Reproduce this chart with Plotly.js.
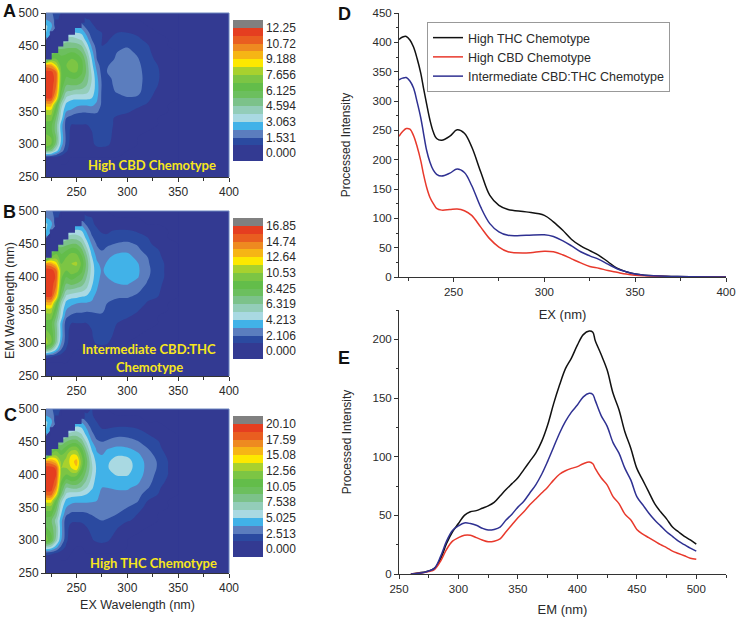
<!DOCTYPE html>
<html><head><meta charset="utf-8">
<script src="https://cdn.plot.ly/plotly-3.0.1.min.js"></script>
<style>html,body{margin:0;padding:0;background:#fff}#c{width:740px;height:622px}</style>
</head><body><div id="c"></div>
<script>
const _=null; // no signal above the scatter line: left empty in the map
const exWavelengths=[220,225,230,235,240,245,250,255,260,265,270,275,280,290,300,310,320,330,340,350];
const emWavelengths=[250,270,280,290,300,310,320,330,340,350,360,370,380,390,400,410,420,430,440,450,460,470,480,490,500];
// Edge of the scatter-line cut-out in the maps (EX, EM nm)
const cutEx=[220,225.6,225.6,232,232,237,237,242,242,248.5,248.5,255,255,258,258,235,235,229,229,224,224,220];
const cutEm=[429,429,439,439,449,449,457,457,467,467,477,477,485,485,500,500,490,490,472,472,459,459];
const bandStepA=0.765625, bandStepB=1.0531, bandStepC=1.2563;
const mapA=[
[0,0,0,0,0,0,0,0,0,0,0,0,0,0,0,0,0,0,0,0],
[0,0,0,0,0,0,0,0,0,0,0,0,0,0,0,0,0,0,0,0],
[1,.8,.6,.4,.2,0,0,0,0,0,0,0,0,0,0,0,0,0,0,0],
[7,6.5,4.5,2.5,1.2,.3,.2,.2,.3,.4,.6,.6,.5,.2,0,0,0,0,0,0],
[10,9,6.5,3.5,1.6,.5,.3,.4,.5,.8,1.2,1.3,1.2,.4,.1,0,0,0,0,0],
[9.5,9,7,3.8,1.7,.6,.4,.5,.6,.9,1.3,1.4,1.3,.6,.2,0,0,0,0,0],
[8.5,8.3,6.5,3.5,1.6,.7,.6,.6,.7,1,1.3,1.4,1.3,.7,.3,.1,0,0,0,0],
[8.5,8.3,6.5,3.5,1.5,1,1,1,1,1.1,1.3,1.4,1.3,.8,.4,.2,.1,0,0,0],
[9.5,9.5,7,4.5,2,1.5,1.2,1.2,1.2,1.3,1.4,1.4,1.2,.9,.7,.4,.2,0,0,0],
[10.5,10.5,8,4.8,3,2.8,2.4,2.2,2.2,2.3,2.2,1.5,1.3,1.2,1.1,.8,.4,.1,0,0],
[12.5,12.5,9,5.5,3.7,3.5,3.2,3.1,3.1,3.2,2.8,1.8,1.4,1.3,1.3,1.2,.9,.3,0,0],
[15,15,12,7,4.8,4.2,4.2,4.2,4.2,4,3.2,1.8,1.5,1.6,1.9,1.8,1.2,.6,.1,0],
[15.6,15.6,13.5,8,6,5.8,5.5,5.5,5.3,4.5,3.5,1.8,1.6,2.1,2.4,2.3,1.4,.8,.2,0],
[15.8,15.7,14,8.7,7,7,7,6.7,6,4.8,3.5,1.9,1.6,2.3,2.6,2.4,1.5,1,.3,0],
[15.7,15.7,14.5,9,7.8,8,8,7.5,6.5,5,3.3,1.8,1.7,2.4,2.7,2.5,1.5,1.1,.4,0],
[15.4,15.4,14,9,8.5,9,9,8.2,6.8,4.8,3,1.6,2,2.6,2.8,2.4,1.5,1.1,.4,0],
[13.5,13,11,8.5,9,9.5,9.3,8.4,6.7,4.4,2.5,1.5,1.9,2.5,2.7,2.3,1.4,1,.3,0],
[5,9,9,8.5,8.5,9,8.8,8,6.3,4,2,1.3,1.5,2.2,2.5,2.1,1.3,.8,.2,0],
[_,6,8,7.5,7.8,8,7.8,7,5.5,3.4,1.8,1.2,1.3,2,2.3,1.8,1.2,.6,.1,0],
[_,_,6,6.5,6.5,6.5,6.5,6,4.5,2.8,1.5,1,1.1,1.6,1.9,1.4,1.1,.3,0,0],
[2.5,_,_,4,5.5,5.5,5.2,4.8,3.5,2,1.3,1,.9,1.3,1.4,1.2,.7,.1,0,0],
[4,2.5,_,_,2.5,4,4,3.8,2.6,1.4,1.1,1,.8,1,1,.8,.3,0,0,0],
[4.2,3.4,1.2,_,_,_,3,2.5,1.5,1.1,.9,.6,.4,.3,.3,.1,0,0,0,0],
[3,2.6,1.5,.5,_,_,_,1.3,1.1,.9,.6,.3,.1,0,0,0,0,0,0,0],
[2.5,2.2,1.5,1,_,_,_,_,0,.7,.3,.1,0,0,0,0,0,0,0,0]];
const mapB=[
[0,0,0,0,0,0,0,0,0,0,0,0,0,0,0,0,0,0,0,0],
[0,0,0,0,0,0,0,0,0,0,0,0,0,0,0,0,0,0,0,0],
[1.5,1.2,.8,.5,.2,0,0,0,0,0,0,0,0,0,0,0,0,0,0,0],
[7,6,4,2,.9,.2,0,0,.1,.3,.5,.6,.5,.1,0,0,0,0,0,0],
[10.5,9,6,3,1.3,.4,.2,.3,.4,.8,1.1,1.2,1.1,.3,0,0,0,0,0,0],
[10,9,6.5,3.5,1.4,.5,.3,.4,.5,.9,1.4,1.5,1.4,.6,.2,0,0,0,0,0],
[9,8.5,6.5,3.5,1.3,.7,.6,.6,.7,1,1.5,1.6,1.5,.8,.3,.1,0,0,0,0],
[8.5,8.3,6.3,3.5,1.4,1,1,1,1,1.2,1.6,1.6,1.5,1,.6,.2,.1,0,0,0],
[9.5,9.5,7,4.5,2.2,1.7,1.6,1.7,1.7,1.8,1.9,1.9,1.8,1.5,1.1,.7,.2,0,0,0],
[10.5,10.5,8,4.8,3,2.6,2.3,2.2,2.1,2.1,2.1,2.1,1.9,1.6,1.3,1.1,.5,.1,0,0],
[12.5,12.5,9,5.5,3.6,3.2,3,2.9,2.9,2.8,2.4,2.2,2,1.7,1.5,1.4,.9,.4,0,0],
[15,15,12,7,4.7,4.3,4.2,4,3.8,3.3,2.6,2.4,2.3,2.1,2.1,1.8,1.2,1,.2,0],
[15.6,15.6,13.5,8,6,5.8,5.5,5.3,4.8,3.8,3,2.5,2.4,2.5,2.5,2.2,1.6,1.2,.4,0],
[15.8,15.7,14.2,8.8,7,7.3,7,6.5,5.5,4.2,3.2,2.6,2.6,3,3.1,2.6,1.9,1.3,.6,0],
[15.8,15.8,14.8,9.2,8,8.5,8,7.5,6,4.5,3.3,2.8,3,3.6,3.7,3.1,2.1,1.5,.7,0],
[15.6,15.6,14.3,9.5,9,9.7,9.5,8.3,6.5,4.6,3.4,2.9,3.2,3.9,3.9,3.2,2.2,1.5,.7,0],
[13.5,13,11.5,9,9.5,10,10.2,8.8,6.7,4.5,3.2,2.7,3.1,3.8,3.8,3.1,2.1,1.5,.7,0],
[5,9,9.5,8.5,9,9.5,9.5,8.3,6.3,4.1,2.8,2.4,2.8,3.4,3.4,2.7,2,1.3,.5,0],
[_,6,8.5,7.5,8,8.7,8.5,7.3,5.5,3.5,2.3,2,2.3,2.7,2.8,2.3,1.5,1.1,.3,0],
[_,_,6,6.5,6.7,7,7,6.2,4.5,2.9,1.9,1.6,1.8,2.1,2.2,1.9,1.2,.7,.1,0],
[2.5,_,_,4,5.5,5.7,5.5,5,3.6,2.2,1.4,1.2,1.1,1.5,1.6,1.3,1,.3,0,0],
[4,2.5,_,_,2.5,4,4.2,4,2.8,1.6,1.1,.9,.9,1.1,1.1,.9,.5,.1,0,0],
[4.2,3.4,1.2,_,_,_,3,2.7,1.8,1.1,.9,.6,.4,.3,.3,.2,0,0,0,0],
[3,2.6,1.5,.5,_,_,_,1.5,1.3,1,.6,.3,.1,0,0,0,0,0,0,0],
[2.5,2.2,1.5,1,_,_,_,_,0,.8,.4,.1,0,0,0,0,0,0,0,0]];
const mapC=[
[0,0,0,0,0,0,0,0,0,0,0,0,0,0,0,0,0,0,0,0],
[0,0,0,0,0,0,0,0,0,0,0,0,0,0,0,0,0,0,0,0],
[1.5,1.2,.9,.5,.2,0,0,0,0,0,0,0,0,0,0,0,0,0,0,0],
[5.5,5,3.5,1.8,.8,.2,0,0,.1,.3,.5,.6,.4,.1,0,0,0,0,0,0],
[9.5,8,5.5,3,1.2,.4,.2,.3,.5,.9,1.2,1.3,1.2,.3,0,0,0,0,0,0],
[9,8,6,3.3,1.3,.5,.4,.5,.7,1.1,1.6,1.7,1.6,.7,.2,0,0,0,0,0],
[8,7.5,6,3.3,1.2,.8,.7,.8,1,1.3,1.7,1.9,1.8,1.1,.5,.1,0,0,0,0],
[7.5,7.2,5.6,3.3,1.3,1.1,1.1,1.1,1.2,1.5,1.9,2,1.9,1.5,1.1,.8,.1,0,0,0],
[8.5,8.5,6.5,4,2.2,1.8,1.8,1.8,1.9,2.1,2.2,2.3,2.3,2,1.6,1,.3,0,0,0],
[9.5,9.5,7.5,4.5,3,2.6,2.5,2.5,2.5,2.6,2.7,2.8,2.6,2.3,2,1.5,.6,.1,0,0],
[11.5,11.5,8.5,5.3,3.7,3.3,3.2,3.2,3.2,3.1,3,2.9,2.7,2.5,2.4,2.1,1,.5,0,0],
[14.5,14.5,11.5,7,4.8,4.5,4.4,4.3,4,3.5,3.1,2.9,2.8,2.8,2.8,2.4,1.5,1,.2,0],
[15.6,15.6,13.5,8,6,6.2,6.3,5.8,5,4.2,3.3,3,3,3.1,3.1,2.8,2.1,1.2,.5,0],
[15.8,15.8,14.5,9,7.5,8,7.8,7,5.8,4.6,3.5,3.1,3.3,3.5,3.5,3.2,2.4,1.5,.8,0],
[15.8,15.8,15,9.8,9,9.5,9.3,8,6.5,5,3.7,3.3,3.7,4.1,4.1,3.5,2.6,1.7,1,0],
[15.6,15.6,14.8,10,10,11,11.8,9,7,5.2,3.8,3.4,3.9,4.5,4.4,3.6,2.7,1.9,1,0],
[13.5,13.2,12,9.7,10.3,11.5,12.5,9.5,7.3,5,3.6,3.3,3.8,4.5,4.4,3.5,2.7,1.9,1,0],
[5,9.5,9.8,9,9.8,11,11,9,6.8,4.5,3.2,3,3.5,3.9,3.8,3.2,2.5,1.6,.8,0],
[_,6,8.5,7.5,8.5,9.5,9.5,8,5.8,3.8,2.8,2.5,2.9,3.2,3.1,2.7,2,1.3,.5,0],
[_,_,6,6.5,7,7.5,7.5,6.5,4.8,3.1,2.2,2,2.2,2.5,2.4,2.1,1.5,1.1,.3,0],
[2.5,_,_,4,5.5,5.8,5.8,5.2,3.8,2.4,1.6,1.3,1.4,1.8,1.8,1.5,1.1,.6,.1,0],
[4,2.5,_,_,2.5,4,4.5,4.2,3,1.8,1.2,1,1,1.2,1.2,1,.6,.2,0,0],
[4.2,3.4,1.2,_,_,_,3,2.9,2,1.3,1,.7,.5,.4,.4,.2,0,0,0,0],
[3,2.6,1.5,.5,_,_,_,1.6,1.5,1.1,.7,.4,.1,0,0,0,0,0,0,0],
[2.5,2.2,1.5,1,_,_,_,_,0,1,.6,.2,0,0,0,0,0,0,0,0]];
const tickTextA=["0.000","1.531","3.063","4.594","6.125","7.656","9.188","10.72","12.25"];
const tickTextB=["0.000","2.106","4.213","6.319","8.425","10.53","12.64","14.74","16.85"];
const tickTextC=["0.000","2.513","5.025","7.538","10.05","12.56","15.08","17.59","20.10"];
const bandColors=["#333a92","#333a92","#333a92","#2b4aa0","#5b7dbe","#41b2e8","#a9d9e2","#93cdb9","#7cc28a","#6cbf5e","#63bd4a","#7cc544","#a8d12e","#fde800","#f6b515","#ee8a20","#e95e20","#e53e20","#808080","#808080"];
// Spectra
const exD=[220,222,224,226,228,230,232,233.5,235.2,237,238.9,240.7,243.5,248,252,256,260,265,270,275,280,290,300,305,310,315,320,325,330,335,340,345,350,355,360,370,380,400];
const thcD=[405,409,410,404,392,372,347,322,295,268,247,236,233,240,251,245,222,179,139,122,115,111,105,94,80,64,53,45,37,26,15,9,5,3,2,1,.5,0];
const cbdD=[240,248,253,252,241,222,198,175,153,136,125,117,114,115,116,113,105,85,65,51,43,41,44,43,38,31,24,18,15,11,8,5,3,2,1.5,.5,.2,0];
const midD=[336,339,340,334,322,298,271,245,216,196,182,175,172,177,184,178,156,119,91,77,71,71,72,69,62,53,43,36,30,22,14,9,5,3,2,1,.4,0];
const emE=[260,270,275,280,285,290,295,300,305,310,315,320,325,330,335,340,345,350,355,360,365,370,375,380,385,390,395,400,405,410,413,415,420,425,430,435,440,445,450,455,460,465,470,475,480,485,490,495,500];
const thcE=[0,1.4,2.5,5,13,26,36,43,50,53,54,56,58,61,66.5,72,77,82,89,96,103,113,127,145,161,175,184,195,204,207,206,199,187,174,154,140,121,107,90,80,70,60,53,47,40,36,32,29,25.5];
const midE=[0,1,2.5,5,15,28,37,41,43.5,43,41.5,39,37.5,38,40,46,51,57,62,69,76,85,96,108,120,130,138,144,151,154,153,148,135,126,112,103,90,80,66,59,52,46,41,36,32,28,25,22,19.5];
const cbdE=[0,1,2,4,11,21,28,31,33,33,31,29,27.5,28,30,36,42,48,53,59,64,69,74,80,85,88,90,91.5,94,95.5,94,90,82,76,66,60,51,46,38,34,31,28,25,22.5,19.5,17.5,15.5,13.5,12.5];
const seriesNames=["High THC Chemotype","High CBD Chemotype","Intermediate CBD:THC Chemotype"];

const W=740,H=622,ink="#2a2a2a",sans="Liberation Sans, Arial, sans-serif",navy="#333a92";
const px=v=>v/W, py=v=>1-v/H;
// One flat colour per contour fill: the fills sample the scale at k/(n-1)
const n=bandColors.length;
const scale=[];bandColors.forEach((c,i)=>{const a=Math.max(0,(i-.5)/(n-1)),b=Math.min(1,(i+.5)/(n-1));scale.push([a,c]);scale.push([b,c]);});
const frames=[[46,229,13,177],[46,229,211,376],[46,229,409,573]];
const bars=[[20,160.7],[218,359],[416,557]];
function mapTrace(i,grid,step,labels){
  const sfx=i?String(i+1):"";
  return {type:"contour",x:exWavelengths,y:emWavelengths,z:grid.map(r=>r.map(v=>v===_?_:v*step)),xaxis:"x"+sfx,yaxis:"y"+sfx,
    zmin:-step,zmax:17*step,autocontour:false,connectgaps:false,contours:{start:-step,end:17*step,size:step,coloring:"fill",showlines:false},
    line:{width:0},colorscale:scale,hoverinfo:"skip",
    colorbar:{x:px(233),xanchor:"left",xpad:0,y:py(bars[i][0]),yanchor:"top",ypad:0,lenmode:"pixels",len:bars[i][1]-bars[i][0],thicknessmode:"pixels",thickness:30,
      outlinewidth:0,ticks:"",tickmode:"array",tickvals:labels.map((_v,k)=>2*k*step),ticktext:labels,tickfont:{family:sans,size:12,color:ink}}};
}
const lineCols=["#111111","#e8392c","#2f3192"];
function spec(x,y,k,ax,leg){return {type:"scatter",mode:"lines",x:x,y:y,name:seriesNames[k],xaxis:"x"+ax,yaxis:"y"+ax,showlegend:leg,line:{color:lineCols[k],width:1.5,shape:"spline",smoothing:1},hoverinfo:"skip"};}
const data=[mapTrace(0,mapA,bandStepA,tickTextA),mapTrace(1,mapB,bandStepB,tickTextB),mapTrace(2,mapC,bandStepC,tickTextC),
  spec(exD,thcD,0,4,true),spec(exD,cbdD,1,4,true),spec(exD,midD,2,4,true),
  spec(emE,thcE,0,5,false),spec(emE,cbdE,1,5,false),spec(emE,midE,2,5,false)];
const base={showgrid:false,zeroline:false,showline:true,linecolor:"#333",linewidth:1,ticks:"outside",ticklen:4,tickwidth:1,tickcolor:"#333",tickfont:{family:sans,size:12,color:ink}};
const minor={ticks:"outside",ticklen:2.5,tickwidth:1,tickcolor:"#333"};
const layout={width:W,height:H,margin:{l:0,r:0,t:0,b:0},paper_bgcolor:"#fff",plot_bgcolor:navy,showlegend:true,
  legend:{x:px(427),y:py(22),xanchor:"left",yanchor:"top",bgcolor:"#fff",bordercolor:"#999",borderwidth:1,font:{family:sans,size:12.5,color:ink},tracegroupgap:0,itemwidth:30},
  annotations:[],shapes:[]};
const cutPath="M"+cutEx.map((x,i)=>x+","+cutEm[i]).join(" L")+" Z";
frames.forEach((f,i)=>{
  const sfx=i?String(i+1):"";
  layout["xaxis"+sfx]=Object.assign({},base,{domain:[px(f[0]),px(f[1])],range:[220,400],tickvals:[250,300,350,400],minor:Object.assign({tickvals:[225,275,325,375]},minor),anchor:"y"+sfx});
  layout["yaxis"+sfx]=Object.assign({},base,{domain:[py(f[3]),py(f[2])],range:[250,500],dtick:50,minor:Object.assign({dtick:25},minor),anchor:"x"+sfx});
  layout.shapes.push({type:"path",xref:"x"+sfx,yref:"y"+sfx,path:cutPath,fillcolor:navy,line:{width:0}});
  layout.shapes.push({type:"path",xref:"x"+sfx+" domain",yref:"y"+sfx+" domain",path:"M0,1 L1,1 L1,0",line:{color:"#6d86bf",width:1}});
});
layout.xaxis3.title={text:"EX Wavelength (nm)",font:{family:sans,size:12.5,color:ink},standoff:5};
const specTick=Object.assign({},base,{tickfont:{family:sans,size:11.5,color:ink}});
layout.xaxis4=Object.assign({},specTick,{domain:[px(399),px(726)],range:[220,400],tickvals:[250,300,350,400],minor:Object.assign({tickvals:[225,275,325,375]},minor),anchor:"y4",title:{text:"EX (nm)",font:{family:sans,size:13,color:ink},standoff:13}});
layout.yaxis4=Object.assign({},specTick,{domain:[py(277),py(13)],range:[0,450],dtick:50,minor:Object.assign({dtick:25},minor),anchor:"x4",title:{text:"Processed Intensity",font:{family:sans,size:12,color:ink},standoff:19}});
layout.xaxis5=Object.assign({},specTick,{domain:[px(399),px(726)],range:[250,525],tickvals:[250,300,350,400,450,500],minor:Object.assign({tickvals:[275,325,375,425,475,525]},minor),anchor:"y5",title:{text:"EM (nm)",font:{family:sans,size:13,color:ink},standoff:11}});
layout.yaxis5=Object.assign({},specTick,{domain:[py(574),py(310)],range:[0,225],tickvals:[0,50,100,150,200],minor:Object.assign({tickvals:[25,75,125,175,225]},minor),anchor:"x5",title:{text:"Processed Intensity",font:{family:sans,size:12,color:ink},standoff:18}});
layout.shapes.push({type:"rect",xref:"x4 domain",yref:"y4 domain",x0:0,x1:1,y0:0,y1:1,layer:"below",fillcolor:"#fff",line:{width:0}});
layout.shapes.push({type:"rect",xref:"x5 domain",yref:"y5 domain",x0:0,x1:1,y0:0,y1:1,layer:"below",fillcolor:"#fff",line:{width:0}});
const note=(t,x,y,o)=>layout.annotations.push(Object.assign({text:t,xref:"paper",yref:"paper",x:px(x),y:py(y),xanchor:"center",yanchor:"middle",showarrow:false},o));
[["A",9.5,11],["B",9.5,212],["C",10,415],["D",344,14],["E",344,358]].forEach(a=>note(a[0],a[1],a[2],{font:{family:sans,size:18,color:"#111",weight:700}}));
const yel={font:{family:"Lato, sans-serif",size:13,color:"#f7e61c",weight:700}};
note("High CBD Chemotype",152,165,yel);
note("Intermediate CBD:THC",149,349,yel);
note("Chemotype",149,367,yel);
note("High THC Chemotype",153,563,yel);
note("EM Wavelength (nm)",10,301,{textangle:-90,font:{family:sans,size:12.5,color:ink}});
Plotly.newPlot("c",data,layout,{displayModeBar:false,responsive:false});
</script></body></html>
